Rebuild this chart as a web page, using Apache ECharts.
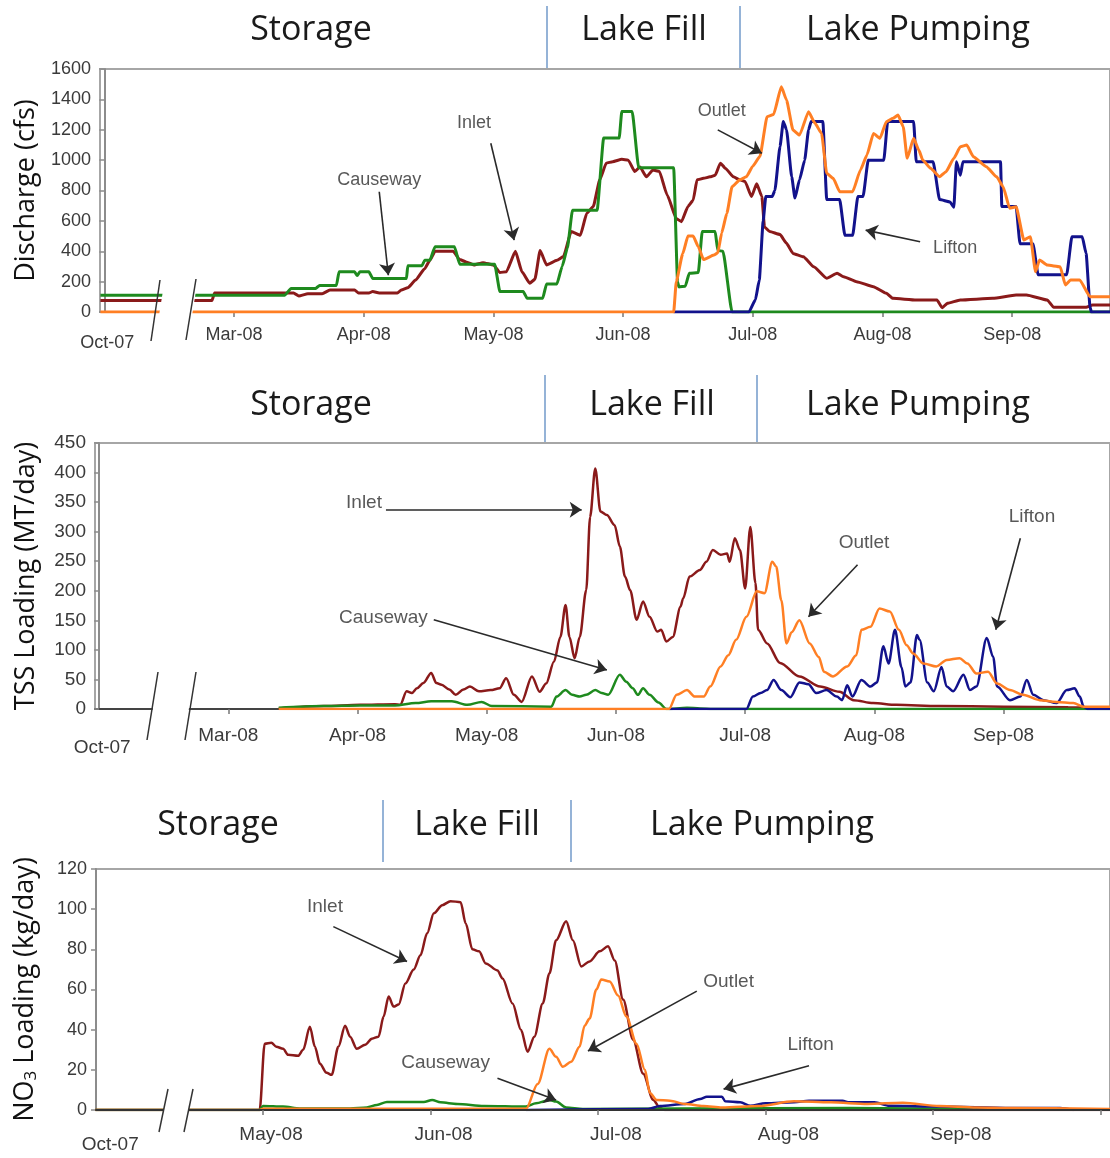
<!DOCTYPE html>
<html>
<head>
<meta charset="utf-8">
<script src="https://cdn.jsdelivr.net/npm/echarts@6/dist/echarts.min.js"></script>
<style>html,body{margin:0;padding:0;background:#fff}#c{width:1110px;height:1158px}</style>
</head>
<body>
<div id="c"></div>
<script>
// ---------- tick labels ----------
const xLabels12 = ['Oct-07','Mar-08','Apr-08','May-08','Jun-08','Jul-08','Aug-08','Sep-08'];
const xLabels3  = ['Oct-07','May-08','Jun-08','Jul-08','Aug-08','Sep-08'];
// x values are month positions on the broken axis (0 = Oct-07, 1 = first month after break, ...)

// ---------- Panel 1: Discharge (cfs) ----------
const qInlet = [[-0.03,75],[0.83,75],[0.85,125],[1.46,125],[1.50,105],[1.57,120],[1.68,120],[1.74,145],[1.93,145],[1.96,125],[2.04,125],[2.07,135],[2.12,125],[2.26,125],[2.29,145],[2.34,160],[2.40,210],[2.47,285],[2.51,340],[2.55,400],[2.69,400],[2.74,345],[2.79,330],[2.85,310],[2.92,325],[3.00,310],[3.05,260],[3.10,265],[3.17,400],[3.22,265],[3.28,190],[3.32,215],[3.36,405],[3.41,310],[3.49,340],[3.54,365],[3.60,530],[3.67,505],[3.72,650],[3.77,695],[3.82,870],[3.87,980],[3.92,990],[3.99,1005],[4.04,1000],[4.09,925],[4.13,955],[4.18,890],[4.23,935],[4.28,925],[4.34,770],[4.41,615],[4.45,595],[4.50,695],[4.54,735],[4.57,870],[4.62,880],[4.67,890],[4.71,900],[4.75,980],[4.79,945],[4.85,890],[4.90,870],[4.94,860],[4.99,760],[5.03,845],[5.07,760],[5.09,560],[5.13,530],[5.21,510],[5.26,452],[5.31,386],[5.39,364],[5.47,298],[5.57,222],[5.65,255],[5.70,232],[5.80,200],[5.93,167],[6.03,123],[6.08,90],[6.26,79],[6.42,79],[6.46,28],[6.50,57],[6.60,79],[6.85,90],[7.03,112],[7.11,112],[7.27,79],[7.32,31],[7.57,31],[7.62,46],[7.76,46]];
const qCauseway = [[-0.03,110],[1.39,110],[1.44,155],[1.63,155],[1.66,175],[1.79,175],[1.81,265],[1.93,265],[1.95,240],[1.97,265],[2.04,265],[2.07,220],[2.33,220],[2.34,305],[2.45,305],[2.47,340],[2.51,340],[2.55,430],[2.70,430],[2.74,315],[3.01,315],[3.05,135],[3.23,135],[3.26,90],[3.38,90],[3.41,185],[3.49,185],[3.53,300],[3.57,420],[3.61,670],[3.80,670],[3.85,1145],[3.97,1145],[3.99,1320],[4.07,1320],[4.12,950],[4.39,950],[4.42,200],[4.43,165],[4.48,170],[4.51,255],[4.58,260],[4.61,530],[4.71,530],[4.73,405],[4.77,400],[4.84,0],[7.76,0]];
const qOutlet = [[-0.03,0],[4.39,0],[4.41,200],[4.46,385],[4.50,500],[4.54,500],[4.58,430],[4.62,345],[4.70,375],[4.73,390],[4.76,520],[4.80,650],[4.84,825],[4.90,870],[4.95,890],[5.00,960],[5.055,1025],[5.11,1286],[5.16,1300],[5.22,1483],[5.26,1396],[5.31,1198],[5.36,1165],[5.43,1319],[5.48,1242],[5.53,1176],[5.57,913],[5.62,880],[5.67,792],[5.77,792],[5.83,935],[5.88,1034],[5.93,1176],[5.98,1144],[6.03,1253],[6.08,1275],[6.12,1297],[6.16,1220],[6.19,1012],[6.24,1144],[6.28,1066],[6.31,1001],[6.37,946],[6.44,891],[6.49,924],[6.55,1012],[6.60,1088],[6.65,1099],[6.70,1023],[6.80,957],[6.88,891],[6.93,825],[6.98,683],[7.03,693],[7.09,474],[7.14,496],[7.18,265],[7.21,342],[7.27,309],[7.37,298],[7.41,178],[7.45,211],[7.52,211],[7.60,101],[7.76,101]];
const qLifton = [[4.39,0],[4.97,0],[5.02,80],[5.05,210],[5.08,600],[5.10,760],[5.15,760],[5.17,800],[5.21,1090],[5.235,1255],[5.26,1200],[5.30,890],[5.325,750],[5.36,870],[5.40,1000],[5.43,1200],[5.45,1255],[5.54,1255],[5.57,740],[5.67,740],[5.71,505],[5.77,505],[5.81,760],[5.85,760],[5.89,1000],[6.01,1000],[6.04,1255],[6.24,1255],[6.26,990],[6.39,990],[6.44,740],[6.52,725],[6.55,690],[6.57,990],[6.60,900],[6.62,990],[6.91,990],[6.92,695],[7.03,695],[7.06,450],[7.16,450],[7.20,245],[7.42,245],[7.46,495],[7.54,495],[7.57,385],[7.60,35],[7.61,0],[7.76,0]];

// ---------- Panel 2: TSS Loading (MT/day) ----------
const tssInlet = [[1.39,1],[1.74,5],[2.02,7],[2.29,8],[2.33,7],[2.38,30],[2.42,27],[2.46,35],[2.51,44],[2.57,61],[2.61,44],[2.65,41],[2.71,33],[2.76,24],[2.82,33],[2.87,38],[2.94,30],[3.03,32],[3.10,35],[3.15,52],[3.21,24],[3.27,12],[3.35,55],[3.41,29],[3.46,43],[3.52,80],[3.57,122],[3.61,176],[3.64,122],[3.68,86],[3.72,122],[3.77,201],[3.80,325],[3.84,407],[3.88,334],[3.93,328],[3.99,311],[4.03,275],[4.07,224],[4.11,201],[4.16,151],[4.21,182],[4.26,156],[4.32,131],[4.35,134],[4.39,114],[4.44,122],[4.50,173],[4.52,187],[4.57,224],[4.65,235],[4.70,249],[4.75,269],[4.81,261],[4.86,263],[4.88,249],[4.92,289],[4.96,269],[5.00,204],[5.04,308],[5.08,213],[5.10,134],[5.17,111],[5.27,78],[5.42,55],[5.58,38],[5.73,29],[5.84,15],[5.99,10],[6.17,7],[6.50,5],[7.00,4],[7.50,3],[7.83,2]];
const tssCauseway = [[1.39,2],[1.74,5],[2.02,6],[2.29,6],[2.45,10],[2.57,13],[2.73,13],[2.85,7],[2.96,12],[3.04,5],[3.50,4],[3.54,21],[3.61,32],[3.66,24],[3.72,21],[3.77,24],[3.84,32],[3.89,27],[3.94,24],[4.03,58],[4.08,46],[4.13,35],[4.17,24],[4.21,35],[4.26,24],[4.33,11],[4.39,0],[4.55,2],[4.65,1],[4.75,0],[7.83,0]];
const tssOutlet = [[1.39,0],[4.41,0],[4.47,24],[4.55,32],[4.61,21],[4.68,21],[4.73,38],[4.81,72],[4.87,91],[4.93,117],[5.01,156],[5.09,199],[5.15,196],[5.21,249],[5.24,241],[5.28,184],[5.32,111],[5.36,130],[5.42,150],[5.50,111],[5.57,88],[5.61,63],[5.68,55],[5.79,72],[5.86,91],[5.90,134],[5.97,139],[6.04,170],[6.12,165],[6.19,134],[6.25,108],[6.30,94],[6.38,77],[6.48,72],[6.56,83],[6.66,86],[6.72,77],[6.79,60],[6.88,63],[6.95,43],[7.05,32],[7.15,24],[7.28,15],[7.41,12],[7.54,10],[7.62,4],[7.83,4]];
const tssLifton = [[4.41,0],[5.01,0],[5.06,21],[5.12,27],[5.17,32],[5.22,49],[5.28,32],[5.35,20],[5.42,45],[5.49,42],[5.55,27],[5.63,32],[5.71,21],[5.75,15],[5.79,40],[5.83,21],[5.90,49],[5.97,38],[6.02,45],[6.07,106],[6.11,77],[6.16,134],[6.21,71],[6.24,38],[6.28,45],[6.33,125],[6.35,117],[6.41,45],[6.46,30],[6.52,71],[6.56,38],[6.61,30],[6.69,58],[6.74,32],[6.79,38],[6.87,120],[6.92,88],[6.95,38],[7.05,15],[7.13,21],[7.18,49],[7.23,24],[7.31,15],[7.41,10],[7.49,32],[7.55,35],[7.59,21],[7.62,4],[7.65,0],[7.83,0]];

// ---------- Panel 3: NO3 Loading (kg/day) ----------
const no3Inlet = [[0,0],[0.98,0],[1.01,33],[1.05,33.5],[1.08,31.5],[1.12,30.5],[1.15,27.5],[1.21,27],[1.24,30],[1.28,41.5],[1.31,31.5],[1.34,23],[1.38,18.5],[1.41,17.5],[1.45,31.5],[1.49,42],[1.52,36.5],[1.56,30.5],[1.61,32.5],[1.65,35.5],[1.69,36.5],[1.72,46.5],[1.75,56.5],[1.78,51.5],[1.81,52.5],[1.85,63],[1.90,70],[1.94,77],[1.98,88],[2.02,98],[2.07,102],[2.12,104],[2.18,103.5],[2.21,93],[2.25,80],[2.29,79],[2.33,73],[2.40,69.5],[2.43,65.5],[2.49,53],[2.54,40],[2.58,29],[2.62,36.5],[2.67,53],[2.71,68],[2.75,84.5],[2.81,94],[2.85,84.5],[2.90,71.5],[2.95,74],[3.01,79],[3.06,81.5],[3.10,74.5],[3.15,55],[3.21,35],[3.27,18],[3.33,5],[3.37,1],[3.40,0],[6.06,0]];
const no3Causeway = [[0,0],[0.98,0],[1.00,2],[1.12,1.7],[1.22,0.8],[1.52,0.8],[1.62,1.3],[1.68,2.5],[1.74,4],[1.96,4],[2.01,5],[2.06,3.8],[2.16,3],[2.32,2],[2.57,1.7],[2.63,3.3],[2.71,5],[2.75,4.2],[2.81,1.3],[2.91,0.5],[3.50,0.8],[4.50,1],[5.30,0.6],[5.90,0.3]];
const no3Outlet = [[0,0],[0.98,0],[1.00,0.6],[2.57,0.6],[2.64,13],[2.71,30.5],[2.75,26.5],[2.79,21.5],[2.84,24],[2.89,31.5],[2.92,42],[2.95,45.5],[2.99,60],[3.02,65],[3.07,64],[3.12,57],[3.17,46.5],[3.23,33],[3.28,20],[3.31,8.5],[3.35,5],[3.43,4.6],[3.52,3],[3.63,2],[3.74,1.3],[3.96,2],[4.17,4.3],[4.39,3.8],[4.61,3],[4.82,3.6],[5.04,2],[5.26,1.3],[5.47,1],[6.06,0.5]];
const no3Lifton = [[2.57,0],[3.30,0.5],[3.37,2],[3.52,3],[3.61,5.5],[3.65,6.6],[3.74,6.6],[3.76,4.3],[3.85,3.8],[3.91,2.1],[4.00,3.3],[4.17,3.8],[4.26,4.6],[4.46,4.6],[4.50,3.8],[4.65,3.8],[4.74,2.1],[5.04,1.7],[5.47,1],[5.76,1],[5.84,0]];

// ---------- annotations [x, y, text] and arrows [x1,y1,x2,y2] ----------
const notes1 = [[2.12,869,'Causeway'],[2.85,1243,'Inlet'],[4.76,1323,'Outlet'],[6.56,420,'Lifton']];
const arrows1 = [[2.12,792,2.19,242],[2.98,1111,3.16,473],[4.73,1199,5.07,1045],[6.29,462,5.87,539]];
const notes2 = [[2.05,349,'Inlet'],[2.20,154,'Causeway'],[5.92,281,'Outlet'],[7.22,325,'Lifton']];
const arrows2 = [[2.22,337,3.735,337],[2.59,151,3.93,66],[5.87,244,5.49,156],[7.13,289,6.94,134]];
const notes3 = [[1.37,101,'Inlet'],[2.09,23.4,'Causeway'],[3.78,63.7,'Outlet'],[4.27,32.4,'Lifton']];
const arrows3 = [[1.42,91.3,1.86,73.9],[2.40,15.8,2.75,5],[3.59,59.2,2.94,29.4],[4.26,22,3.75,10.4]];

const phases = ['Storage','Lake Fill','Lake Pumping'];

// ---------- styling ----------
const C = {inlet:'#8a1a1a', causeway:'#1e8a1e', outlet:'#ff7f24', lifton:'#12128c'};
const TXT = '#3a3a3a';
const AX = '#8c8c8c';

function line(data, color, width, gi, smooth) {
  return {type:'line', data, xAxisIndex:gi, yAxisIndex:gi, symbol:'none', showSymbol:false,
    smooth, smoothMonotone:'x', lineStyle:{color, width}, itemStyle:{color}, silent:true, z:2};
}
function notes(gi, texts, arrows, fs) {
  return {type:'scatter', xAxisIndex:gi, yAxisIndex:gi, data:texts, symbolSize:1,
    itemStyle:{color:'rgba(0,0,0,0)'}, z:6, silent:true,
    label:{show:true, position:'inside', formatter:p=>p.data[2], fontFamily:'Liberation Sans', fontSize:fs, color:'#2e2e2e'},
    markLine:{silent:true, symbol:['none','arrow'], symbolSize:12, label:{show:false},
      lineStyle:{color:'#2a2a2a', width:1.6, type:'solid'}, emphasis:{disabled:true},
      data: arrows.map(a=>[{coord:[a[0],a[1]]},{coord:[a[2],a[3]]}])}};
}
function xAxis(gi, min, max, ticks, labelPos, labels, fs, margin, octPad, axisColor, z) {
  return {type:'value', gridIndex:gi, min, max, z,
    axisLine:{show:true, lineStyle:{color:axisColor, width:2}},
    axisTick:{show:true, customValues:ticks, length:5, lineStyle:{color:'#777', width:1.5}},
    axisLabel:{customValues:labelPos, margin, fontFamily:'Liberation Sans', fontSize:fs, color:TXT,
      formatter:v=>{const i=Math.round(v); return i===0 ? '{o|'+labels[0]+'}' : labels[i];},
      rich:{o:{fontFamily:'Liberation Sans', fontSize:fs, color:TXT, padding:[octPad,0,0,6]}}},
    splitLine:{show:false}};
}
function yAxis(gi, max, interval, name, gap, fs, nameRich) {
  return {type:'value', gridIndex:gi, min:0, max, interval, name, nameLocation:'middle', nameGap:gap,
    nameTextStyle:{fontFamily:'Open Sans', fontSize:27, color:'#111', rich:nameRich},
    axisLine:{show:true, lineStyle:{color:AX, width:2}},
    axisTick:{show:true, length:5, lineStyle:{color:AX, width:1.5}},
    axisLabel:{fontFamily:'Liberation Sans', fontSize:fs, color:TXT, margin:9, formatter:v=>String(v)},
    splitLine:{show:false}};
}
function header(y, xs, seps, y1, y2) {
  const g = phases.map((t,i)=>({type:'text', x:xs[i], y, z:50,
    style:{text:t, fontFamily:'Open Sans', fontSize:34, fill:'#1a1a1a', align:'center', verticalAlign:'middle'}}));
  seps.forEach(sx=>g.push({type:'line', z:50, shape:{x1:sx,y1:y1,x2:sx,y2:y2}, style:{stroke:'#95b3d7', lineWidth:2}}));
  return g;
}
function brk(cover, l1, l2) {
  return [
    {type:'polygon', z:90, shape:{points:cover}, style:{fill:'#fff'}},
    {type:'line', z:95, shape:{x1:l1[0],y1:l1[1],x2:l1[2],y2:l1[3]}, style:{stroke:'#333', lineWidth:1.5}},
    {type:'line', z:95, shape:{x1:l2[0],y1:l2[1],x2:l2[2],y2:l2[3]}, style:{stroke:'#333', lineWidth:1.5}}
  ];
}

const chart = echarts.init(document.getElementById('c'), null, {renderer:'canvas'});
chart.setOption({
  animation:false,
  backgroundColor:'#fff',
  grid:[
    {left:100, top:69, width:1010, height:243, show:true, borderColor:'#a6a6a6', borderWidth:2, backgroundColor:'#fff'},
    {left:95, top:443, width:1015, height:266, show:true, borderColor:'#a6a6a6', borderWidth:2, backgroundColor:'#fff'},
    {left:96, top:869, width:1014, height:241, show:true, borderColor:'#a6a6a6', borderWidth:2, backgroundColor:'#fff'}
  ],
  xAxis:[
    xAxis(0, -0.033, 7.754, [1,2,3,4,5,6,7], [0,1,2,3,4,5,6,7], xLabels12, 18, 14, 8, AX, 0),
    xAxis(1, -0.032, 7.824, [1,2,3,4,5,6,7], [0,1,2,3,4,5,6,7], xLabels12, 19, 17, 12, '#444', 0),
    xAxis(2, 0.003, 6.057, [1,2,3,4,5,6], [0.07,1.048,2.078,3.107,4.137,5.167], xLabels3, 19, 15, 10, '#333', 3)
  ],
  yAxis:[
    yAxis(0, 1600, 200, 'Discharge (cfs)', 60, 18),
    yAxis(1, 450, 50, 'TSS Loading (MT/day)', 55, 19),
    yAxis(2, 120, 20, 'NO{sub|3} Loading (kg/day)', 56, 18,
      {sub:{fontFamily:'Open Sans', fontSize:17, color:'#111', verticalAlign:'bottom', padding:[12,0,0,0]}})
  ],
  series:[
    line(qInlet, C.inlet, 3, 0, 0.15),
    line(qCauseway, C.causeway, 3, 0, 0.15),
    line(qLifton, C.lifton, 3, 0, 0.15),
    line(qOutlet, C.outlet, 3, 0, 0.15),
    notes(0, notes1, arrows1, 18),
    line(tssInlet, C.inlet, 2.5, 1, 0.3),
    line(tssCauseway, C.causeway, 2.5, 1, 0.3),
    line(tssLifton, C.lifton, 2.5, 1, 0.3),
    line(tssOutlet, C.outlet, 2.5, 1, 0.3),
    notes(1, notes2, arrows2, 19),
    line(no3Inlet, C.inlet, 2.5, 2, 0.3),
    line(no3Causeway, C.causeway, 2.5, 2, 0.3),
    line(no3Lifton, C.lifton, 2.5, 2, 0.3),
    line(no3Outlet, C.outlet, 2.5, 2, 0.3),
    notes(2, notes3, arrows3, 19)
  ],
  graphic:[].concat(
    header(30, [311,644,918], [547,740], 6, 68),
    header(405, [311,652,918], [545,757], 375, 442),
    header(825, [218,477,762], [383,571], 800, 862),
    brk([[165,278],[198,278],[191,322],[158,322]], [160,280,151,341], [196,279,186,340]),
    brk([[156,690],[192,690],[187,720],[151,720]], [158,672,147,740], [196,672,185,740]),
    brk([[166,1093],[191,1093],[187,1122],[162,1122]], [168,1089,159,1132], [193,1089,184,1132])
  )
});
</script>
</body>
</html>
